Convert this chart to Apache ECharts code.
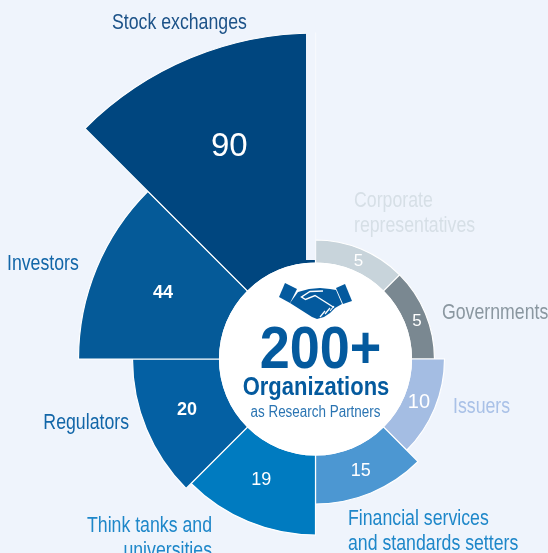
<!DOCTYPE html>
<html><head><meta charset="utf-8">
<style>html,body{margin:0;padding:0;background:#EFF4FC}#c{width:548px;height:553px}</style>
<script src="https://cdn.jsdelivr.net/npm/echarts@6/dist/echarts.min.js"></script>
</head><body><div id="c"></div>
<script>
// clockwise from 12 o'clock
const categories = ['Corporate representatives','Governments','Issuers','Financial services and standards setters','Think tanks and universities','Regulators','Investors','Stock exchanges'];
const partners = [5,5,10,15,19,20,44,90];
// drawn length of each sector beyond the centre disc (axis units)
const sectorLengths = [23,23,33,49,80,87,141,230];
const sectorColors = ['#C8D4DB','#7A8891','#A4BDE3','#4C97D2','#007BC0','#0460A3','#055A98','#00467F'];
const labelSizes = [17,17,20,18,18,18,18,33];
const labelNudges = [[1,-4],[8,4],[5,-2],[-6,6],[8,-1],[-3,-14],[0,18],[29,-15]];
const captions = [
 {lines:['Corporate','representatives'],x:354,y:201,align:'left',color:'#D6DFE6'},
 {lines:['Governments'],x:442,y:312.5,align:'left',color:'#8A97A0'},
 {lines:['Issuers'],x:453,y:406.5,align:'left',color:'#A9C1E7'},
 {lines:['Financial services','and standards setters'],x:348,y:519,align:'left',color:'#1E87C9'},
 {lines:['Think tanks and','universities'],x:212,y:526,align:'right',color:'#1E87C9'},
 {lines:['Regulators'],x:129,y:422.5,align:'right',color:'#1266A8'},
 {lines:['Investors'],x:7,y:263.5,align:'left',color:'#1266A8'},
 {lines:['Stock exchanges'],x:112,y:23,align:'left',color:'#1C5288'}
];
const FONT = '"Liberation Sans",sans-serif';
const cx = 315.5, cy = 359, r0 = 96, r1 = 326;
const BLUE = '#045A9E';
const text = (t,x,y,align,font,fill,sx)=>({type:'text',z:7,x:x,y:y,scaleX:sx,style:{text:t,x:0,y:0,align:align,verticalAlign:'middle',font:font+' '+FONT,fill:fill}});
const gap = (pts,w)=>({type:'polyline',z:8,shape:{points:pts},style:{stroke:'#fff',lineWidth:w,fill:null}});
const graphics = [
 {type:'rect',z:5,shape:{x:306,y:20,width:cx-306,height:240},style:{fill:'#EFF4FC'}},
 {type:'circle',z:6,shape:{cx:cx,cy:cy,r:r0+0.5},style:{fill:'#fff'}},
 {type:'polygon',z:7,shape:{points:[[285,283],[297,289],[290,303],[279,297]]},style:{fill:BLUE}},
 {type:'polygon',z:7,shape:{points:[[336,288],[345,284],[352,301],[343,304]]},style:{fill:BLUE}},
 {type:'polygon',z:7,shape:{points:[[298,292],[309,289],[320,288],[330,289],[336,290],[342,304],[335,308],[330,313],[324,317],[317,319],[312,317],[290,303]]},style:{fill:BLUE}},
 gap([[323,291],[310,291.5],[301.5,297],[305.5,299.5],[315,295.5],[334,307.5]],1.4),
 gap([[320,317],[325,311]],1.2),gap([[325,314],[330,308]],1.2),gap([[330,311],[334,306]],1.2),
 text('200+',320.5,351,'center','bold 60px',BLUE,0.9),
 text('Organizations',316,388,'center','bold 25px',BLUE,0.88),
 text('as Research Partners',315.5,413,'center','16px','#2A74B2',0.84)
];
captions.forEach(c=>c.lines.forEach((t,i)=>graphics.push(text(t,c.x,c.y+i*24.5,c.align,'22px',c.color,0.805))));
const chart = echarts.init(document.getElementById('c'),null,{renderer:'canvas'});
chart.setOption({
 backgroundColor:'#EFF4FC',
 animation:false,
 polar:{center:[cx,cy],radius:[r0,r1]},
 angleAxis:{type:'category',data:categories,startAngle:90,clockwise:true,show:false},
 radiusAxis:{type:'value',min:0,max:r1-r0,show:false},
 series:[{type:'bar',coordinateSystem:'polar',barWidth:'100%',barGap:0,
  data:sectorLengths.map((v,i)=>({value:v,itemStyle:{color:sectorColors[i],borderColor:'#fff',borderWidth:1.2},
   label:{show:true,position:'inside',rotate:0,formatter:String(partners[i]),color:'#fff',fontSize:labelSizes[i],fontFamily:FONT,fontWeight:i>4&&i<7?'bold':'normal',offset:labelNudges[i]}}))
 }],
 graphic:graphics
});
</script></body></html>
